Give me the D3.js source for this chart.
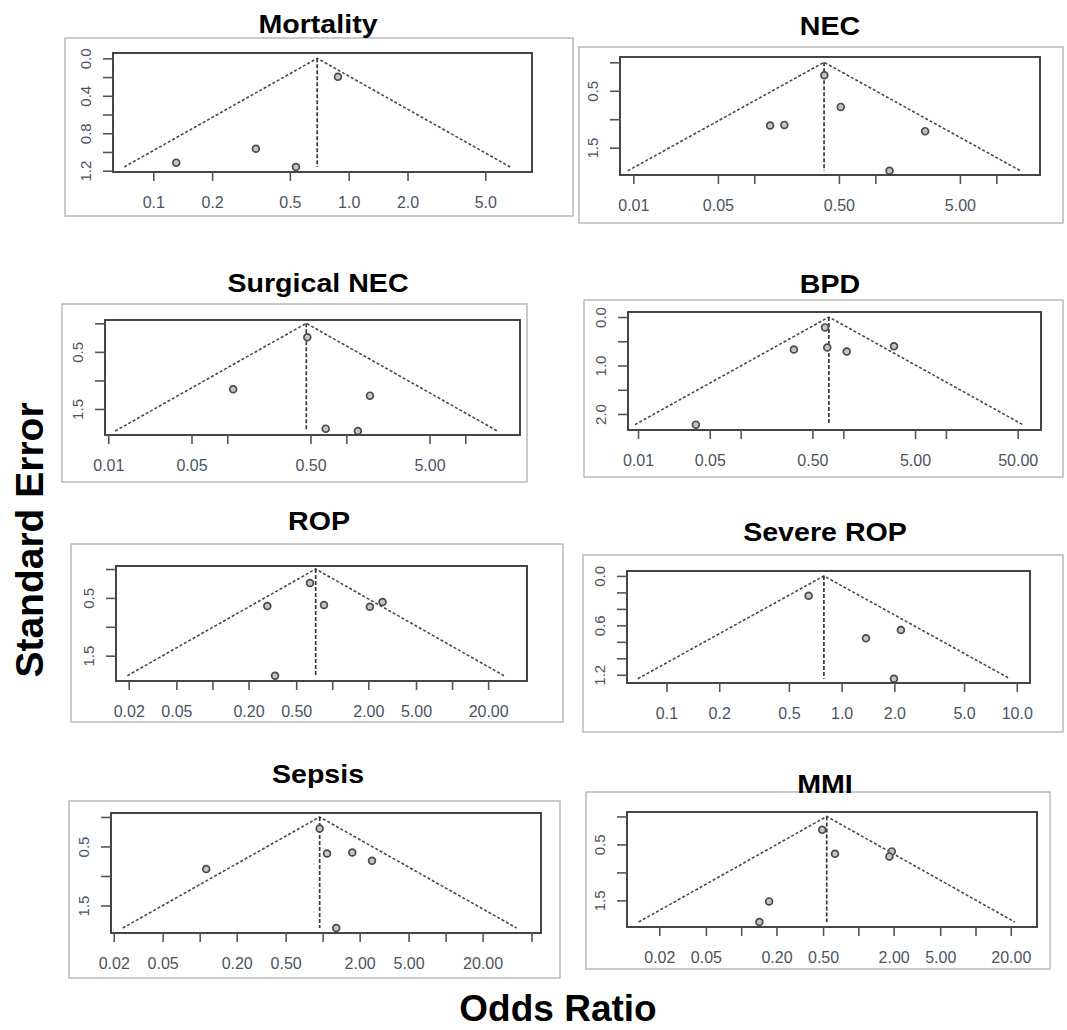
<!DOCTYPE html>
<html>
<head>
<meta charset="utf-8">
<script src="https://cdn.jsdelivr.net/npm/d3@7"></script>
<style>
  body { margin: 0; background: #fff; }
  svg { display: block; font-family: "Liberation Sans", Arial, sans-serif; }
</style>
</head>
<body>
<div id="chart"></div>
<script>
// panel titles, in reading order
const titles = ["Mortality", "NEC", "Surgical NEC", "BPD", "ROP", "Severe ROP", "Sepsis", "MMI"];

// study odds ratios and standard errors
const oddsRatios = [
  [0.131, 0.335, 0.537, 0.881],
  [0.379, 0.518, 0.135, 0.177, 2.58, 1.31],
  [0.470, 0.112, 1.58, 0.671, 1.25],
  [0.664, 0.330, 0.698, 1.08, 3.12, 0.0366],
  [0.652, 0.287, 0.853, 2.06, 2.63, 0.333],
  [0.648, 1.377, 2.18, 1.99],
  [0.946, 1.086, 1.742, 2.52, 0.113, 1.29],
  [0.492, 0.632, 1.93, 1.84, 0.173, 0.143]
];
const standardErrors = [
  [1.114, 0.965, 1.16, 0.196],
  [0.228, 0.784, 1.111, 1.10, 1.21, 1.906],
  [0.245, 1.156, 1.267, 1.845, 1.886],
  [0.214, 0.670, 0.628, 0.711, 0.601, 2.22],
  [0.242, 0.640, 0.623, 0.652, 0.571, 1.846],
  [0.241, 0.756, 0.656, 1.248],
  [0.197, 0.618, 0.601, 0.742, 0.882, 1.882],
  [0.238, 0.666, 0.625, 0.714, 1.518, 1.886]
];
// pooled estimate (apex of each funnel)
const pooledOR = [0.69, 0.377, 0.461, 0.724, 0.727, 0.792, 0.946, 0.537];

// axis ticks; labelled ones are the subset R managed to print
const xTicks = [
  [0.1, 0.2, 0.5, 1, 2, 5],
  [0.01, 0.05, 0.1, 0.5, 1, 5, 10],
  [0.01, 0.05, 0.1, 0.5, 1, 5, 10],
  [0.01, 0.05, 0.1, 0.5, 1, 5, 10, 50],
  [0.02, 0.05, 0.1, 0.2, 0.5, 1, 2, 5, 10, 20],
  [0.1, 0.2, 0.5, 1, 2, 5, 10],
  [0.02, 0.05, 0.1, 0.2, 0.5, 1, 2, 5, 10, 20, 50],
  [0.02, 0.05, 0.1, 0.2, 0.5, 1, 2, 5, 10, 20]
];
const xLabelled = [
  [0.1, 0.2, 0.5, 1, 2, 5],
  [0.01, 0.05, 0.5, 5],
  [0.01, 0.05, 0.5, 5],
  [0.01, 0.05, 0.5, 5, 50],
  [0.02, 0.05, 0.2, 0.5, 2, 5, 20],
  [0.1, 0.2, 0.5, 1, 2, 5, 10],
  [0.02, 0.05, 0.2, 0.5, 2, 5, 20],
  [0.02, 0.05, 0.2, 0.5, 2, 5, 20]
];
const xDecimals = [1, 2, 2, 2, 2, 1, 2, 2];
const yTicks = [
  [0, 0.2, 0.4, 0.6, 0.8, 1.0, 1.2],
  [0, 0.5, 1.0, 1.5],
  [0, 0.5, 1.0, 1.5],
  [0, 0.5, 1.0, 1.5, 2.0],
  [0, 0.5, 1.0, 1.5],
  [0, 0.2, 0.4, 0.6, 0.8, 1.0, 1.2],
  [0, 0.5, 1.0, 1.5],
  [0, 0.5, 1.0, 1.5]
];
const yLabelled = [
  [0, 0.4, 0.8, 1.2],
  [0.5, 1.5],
  [0.5, 1.5],
  [0, 1.0, 2.0],
  [0.5, 1.5],
  [0, 0.6, 1.2],
  [0.5, 1.5],
  [0.5, 1.5]
];

// layout: outer frame, inner plot box, scale domains, title anchor
const layout = [
  { outer: [65, 38, 573, 216],   box: [113, 53, 532, 172],  xDom: [0.0622, 8.67],  yDom: [-0.057, 1.214], title: [318, 33] },
  { outer: [579, 47, 1063, 223], box: [620, 57, 1040, 175], xDom: [0.00776, 22.96], yDom: [-0.093, 1.98], title: [830, 35] },
  { outer: [62, 304, 527, 482],  box: [105, 320, 520, 435], xDom: [0.00938, 28.8], yDom: [-0.058, 1.956], title: [318, 292] },
  { outer: [584, 300, 1063, 477], box: [628, 312, 1041, 430], xDom: [0.00799, 84.4], yDom: [-0.104, 2.33], title: [830, 293] },
  { outer: [71, 544, 563, 722],  box: [116, 566, 527, 681], xDom: [0.01567, 42.2], yDom: [-0.052, 1.938], title: [319, 530] },
  { outer: [583, 555, 1063, 732], box: [627, 571, 1030, 683], xDom: [0.0595, 11.9], yDom: [-0.060, 1.30], title: [825, 541] },
  { outer: [69, 801, 560, 978],  box: [111, 813, 541, 933], xDom: [0.019, 59.7], yDom: [-0.067, 1.966], title: [318, 783] },
  { outer: [586, 792, 1050, 969], box: [627, 812, 1037, 927], xDom: [0.0106, 33.5], yDom: [-0.079, 1.975], title: [825, 793] }
];

const width = 1067;
const height = 1030;
const labelColor = "#4b5262";

const svg = d3.select("#chart")
  .append("svg")
  .attr("width", width)
  .attr("height", height);

titles.forEach((title, i) => {
  const L = layout[i];
  const [x0, y0, x1, y1] = L.box;
  const g = svg.append("g");

  // outer figure frame
  g.append("rect")
    .attr("x", L.outer[0]).attr("y", L.outer[1])
    .attr("width", L.outer[2] - L.outer[0])
    .attr("height", L.outer[3] - L.outer[1])
    .attr("fill", "none")
    .attr("stroke", "#a8a8a8")
    .attr("stroke-width", 1.2);

  const x = d3.scaleLog().domain(L.xDom).range([x0, x1]);
  const y = d3.scaleLinear().domain(L.yDom).range([y0, y1]);

  // funnel: pooled estimate +/- 1.96 SE on the log scale, down to the largest SE
  const seMax = d3.max(standardErrors[i]);
  const p = pooledOR[i];
  const funnel = [
    [p * Math.exp(-1.96 * seMax), seMax],
    [p, 0],
    [p * Math.exp(1.96 * seMax), seMax]
  ];
  const line = d3.line().x(d => x(d[0])).y(d => y(d[1]));
  g.append("path")
    .attr("d", line(funnel))
    .attr("fill", "none")
    .attr("stroke", "#4a4a4a")
    .attr("stroke-width", 1.6)
    .attr("stroke-dasharray", "3,2");

  g.append("line")
    .attr("x1", x(p)).attr("x2", x(p))
    .attr("y1", y(0)).attr("y2", y(seMax))
    .attr("stroke", "#383838")
    .attr("stroke-width", 1.7)
    .attr("stroke-dasharray", "4,2");

  // studies
  g.append("g")
    .selectAll("circle")
    .data(oddsRatios[i].map((or, k) => ({ or, se: standardErrors[i][k] })))
    .enter().append("circle")
    .attr("cx", d => x(d.or))
    .attr("cy", d => y(d.se))
    .attr("r", 3.4)
    .attr("fill", "#c4c4c4")
    .attr("stroke", "#4a4a4a")
    .attr("stroke-width", 1.7);

  // plot box
  g.append("rect")
    .attr("x", x0).attr("y", y0)
    .attr("width", x1 - x0).attr("height", y1 - y0)
    .attr("fill", "none")
    .attr("stroke", "#3c3c3c")
    .attr("stroke-width", 1.9);

  // x axis
  const fmt = d3.format("." + xDecimals[i] + "f");
  const xAxis = g.append("g")
    .attr("transform", `translate(0,${y1})`)
    .call(d3.axisBottom(x)
      .tickValues(xTicks[i])
      .tickSize(9)
      .tickSizeOuter(0)
      .tickFormat(v => xLabelled[i].includes(v) ? fmt(v) : ""));
  xAxis.select(".domain").remove();
  xAxis.selectAll(".tick line").attr("stroke", "#555").attr("stroke-width", 1.6);
  xAxis.selectAll(".tick text")
    .attr("y", 36).attr("dy", null)
    .attr("fill", labelColor)
    .attr("font-size", 16);

  // y axis, labels turned parallel to the axis as in R
  const yAxis = g.append("g")
    .attr("transform", `translate(${x0},0)`)
    .call(d3.axisLeft(y)
      .tickValues(yTicks[i])
      .tickSize(10)
      .tickSizeOuter(0)
      .tickFormat(v => yLabelled[i].includes(v) ? d3.format(".1f")(v) : ""));
  yAxis.select(".domain").remove();
  yAxis.selectAll(".tick line").attr("stroke", "#555").attr("stroke-width", 1.6);
  yAxis.selectAll(".tick text")
    .attr("x", null).attr("dy", null)
    .attr("text-anchor", "middle")
    .attr("transform", "translate(-22,0) rotate(-90)")
    .attr("fill", labelColor)
    .attr("font-size", 15);

  // title
  svg.append("text")
    .attr("transform", `translate(${L.title[0]},${L.title[1]}) scale(1.1,1)`)
    .attr("text-anchor", "middle")
    .attr("font-size", 26)
    .attr("font-weight", "bold")
    .attr("fill", "#000")
    .text(title);
});

// shared axis titles
svg.append("text")
  .attr("transform", "translate(43,540) rotate(-90)")
  .attr("text-anchor", "middle")
  .attr("font-size", 39)
  .attr("font-weight", "bold")
  .text("Standard Error");

svg.append("text")
  .attr("x", 558)
  .attr("y", 1021)
  .attr("text-anchor", "middle")
  .attr("font-size", 37)
  .attr("font-weight", "bold")
  .text("Odds Ratio");
</script>
</body>
</html>
